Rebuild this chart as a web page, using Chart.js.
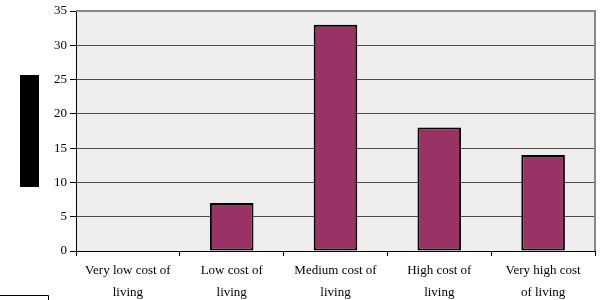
<!DOCTYPE html>
<html>
<head>
<meta charset="utf-8">
<script src="https://cdn.jsdelivr.net/npm/chart.js@4.4.1/dist/chart.umd.min.js"></script>
<style>
  html, body { margin: 0; padding: 0; background: #ffffff; }
  #wrap { width: 604px; height: 300px; position: relative; }
</style>
</head>
<body>
<div id="wrap"><canvas id="costChart" width="604" height="300"></canvas></div>
<script>
// categories and values
var categories = [
    ['Very low cost of', 'living'],
    ['Low cost of', 'living'],
    ['Medium cost of', 'living'],
    ['High cost of', 'living'],
    ['Very high cost', 'of living']
];
var counts = [0, 7, 33, 18, 14];
var yTicks = [0, 5, 10, 15, 20, 25, 30, 35];

// plot background, grey top/right frame and the page furniture
var decor = {
    id: 'decor',
    beforeDraw: function (chart) {
        var a = chart.chartArea, c = chart.ctx;
        c.save();
        c.fillStyle = '#eeeeee';
        c.fillRect(a.left, a.top, a.right - a.left, a.bottom - a.top);
        c.restore();
    },
    afterDraw: function (chart) {
        var a = chart.chartArea, c = chart.ctx;
        c.save();
        c.strokeStyle = '#888888';
        c.lineWidth = 2;
        c.beginPath();
        c.moveTo(a.left, a.top);
        c.lineTo(a.right, a.top);
        c.lineTo(a.right, a.bottom);
        c.stroke();
        // blacked-out axis title
        c.fillStyle = '#000000';
        c.fillRect(20, 75, 19, 112);
        // box edge at bottom left
        c.strokeStyle = '#000000';
        c.lineWidth = 1;
        c.beginPath();
        c.moveTo(0, 295.5);
        c.lineTo(48.5, 295.5);
        c.lineTo(48.5, 300);
        c.stroke();
        c.restore();
    }
};

var ctx = document.getElementById('costChart').getContext('2d');
var costChart = new Chart(ctx, {
    type: 'bar',
    data: {
        labels: categories,
        datasets: [{
            data: counts,
            backgroundColor: '#993366',
            borderColor: '#000000',
            borderWidth: 2,
            borderSkipped: false,
            barPercentage: 0.42,
            categoryPercentage: 1.0
        }]
    },
    options: {
        responsive: false,
        animation: false,
        layout: { padding: { top: 11, right: 9, left: 0, bottom: 0 } },
        plugins: {
            legend: { display: false },
            tooltip: { enabled: false }
        },
        scales: {
            x: {
                offset: true,
                grid: {
                    offset: true,
                    drawOnChartArea: false,
                    drawTicks: true,
                    tickLength: 5,
                    color: '#000000'
                },
                border: { color: '#000000', width: 1 },
                ticks: {
                    color: '#000000',
                    maxRotation: 0,
                    autoSkip: false,
                    padding: 4,
                    font: { family: 'Liberation Serif', size: 13, lineHeight: 1.65 }
                },
                afterFit: function (axis) { axis.height = 49; }
            },
            y: {
                min: 0,
                max: 35,
                afterBuildTicks: function (axis) {
                    axis.ticks = yTicks.map(function (v) { return { value: v }; });
                },
                grid: {
                    color: '#4d4d4d',
                    lineWidth: 1,
                    drawTicks: true,
                    tickLength: 6,
                    tickColor: '#000000'
                },
                border: { color: '#000000', width: 1 },
                ticks: {
                    color: '#000000',
                    padding: 3,
                    font: { family: 'Liberation Serif', size: 13 }
                },
                afterFit: function (axis) { axis.width = 76; }
            }
        }
    },
    plugins: [decor]
});
</script>
</body>
</html>
